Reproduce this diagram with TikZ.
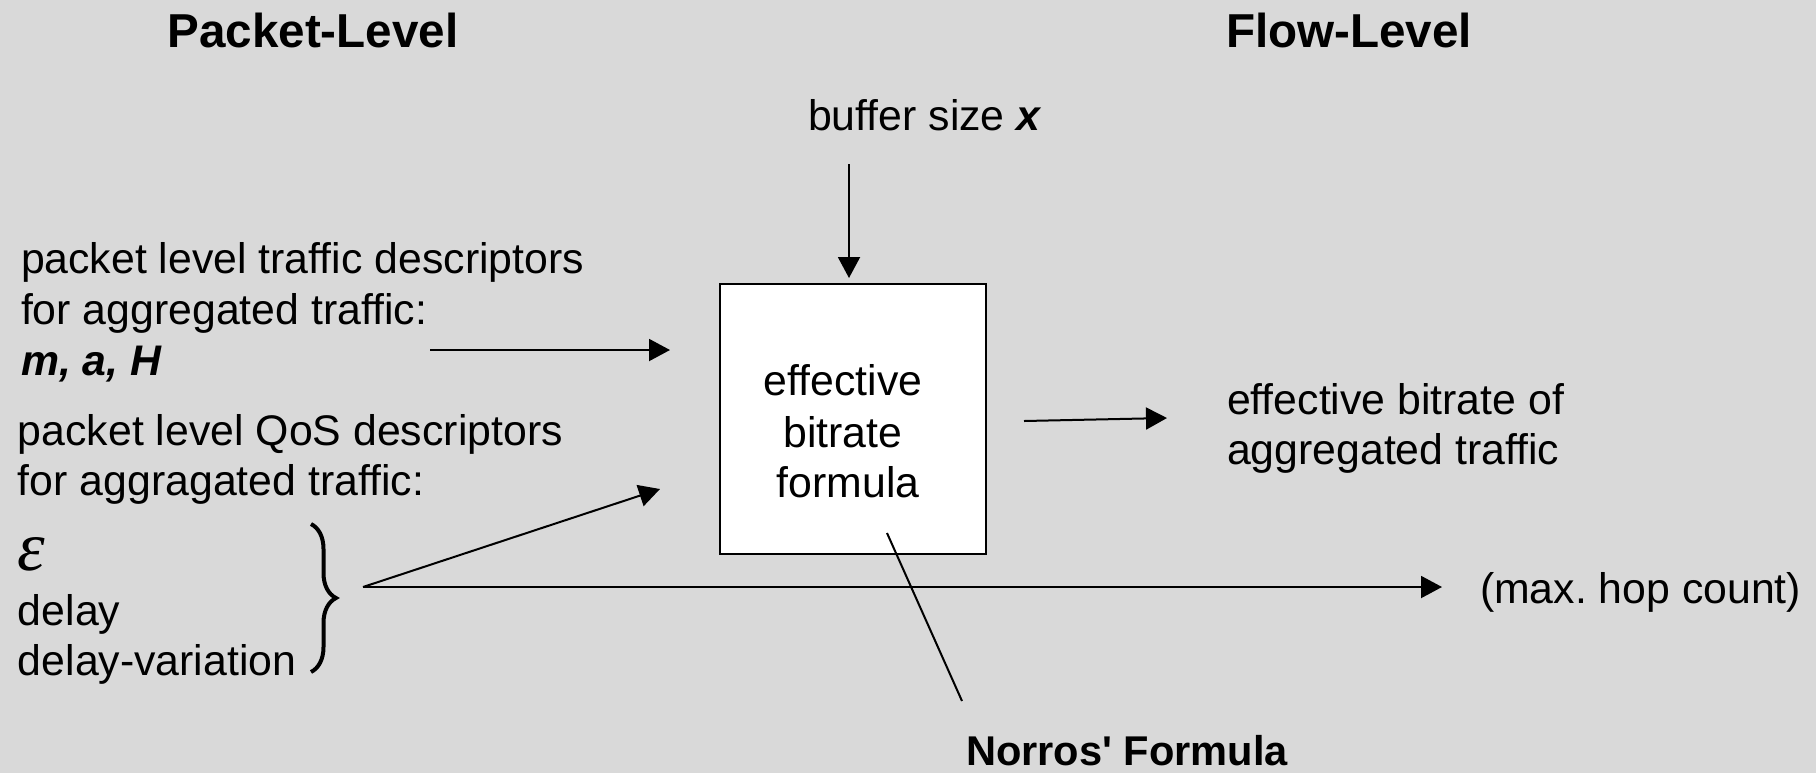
\documentclass[tikz,border=0pt]{standalone}
\usepackage{fontspec}
\setmainfont{Liberation Sans}
\newfontfamily\epsfont{Liberation Serif}
\newfontfamily\norfont{Liberation Sans}[Ligatures=TeXOff]
\usetikzlibrary{arrows.meta,decorations.pathreplacing}
\definecolor{bg}{RGB}{217,217,217}
\frenchspacing
\begin{document}
\begin{tikzpicture}[x=0.5pt,y=-0.5pt,
  txt/.style={inner sep=0pt,outer sep=0pt,font=\fontsize{21.4}{25.5}\selectfont},
  ttl/.style={inner sep=0pt,outer sep=0pt,font=\fontsize{23.8}{28}\selectfont\bfseries},
  arr/.style={line width=1pt,-{Triangle[length=10.5pt,width=11pt]}},
  ln/.style={line width=1pt}]
\fill[bg] (0,0) rectangle (1816,773);
\useasboundingbox (0,0) rectangle (1816,773);
% titles
\node[ttl,anchor=base] (tpl) at (313,47) {Packet-Level};
\node[ttl,anchor=base] (tfl) at (1349,47) {Flow-Level};
% box
\node[draw,fill=white,line width=1.1pt,minimum width=133pt,minimum height=135pt,inner sep=0pt,outer sep=0pt] (box) at (853,419) {};
\node[txt,anchor=base] (bt1) at (843,395) {effective};
\node[txt,anchor=base] (bt2) at (843,447) {bitrate};
\node[txt,anchor=base] (bt3) at (848,497) {formula};
% buffer size
\node[txt,anchor=base] (buf) at (925,130) {buffer size \textbf{\textit{x}}};
% left texts
\node[txt,anchor=base west] (l1) at (21,273) {packet level traffic descriptors};
\node[txt,anchor=base west] (l2) at (21,324) {for aggregated traffic:};
\node[txt,anchor=base west] (l3) at (21,375) {\textbf{\textit{m, a, H}}};
\node[txt,anchor=base west] (l4) at (18,445) {packet level QoS descriptors};
\node[txt,anchor=base west] (l5) at (18,495) {for aggragated traffic:};
\node[inner sep=0pt,outer sep=0pt,anchor=base west,font=\fontsize{35}{38}\epsfont\itshape] (eps) at (18,570) {ε};
\node[txt,anchor=base west] (l6) at (18,625) {delay};
\node[txt,anchor=base west] (l7) at (18,675) {delay-variation};
% right texts
\node[txt,anchor=base west] (r1) at (1227,414) {effective bitrate of};
\node[txt,anchor=base west] (r2) at (1227,464) {aggregated traffic};
\node[txt,anchor=base west] (hop) at (1480,603) {(max. hop count)};
\node[inner sep=0pt,outer sep=0pt,anchor=base,font=\fontsize{20.8}{25}\norfont\bfseries] (nor) at (1127,765) {Norros' Formula};
% brace
\coordinate (bt) at (311,524);
\coordinate (bb) at (311,672);
\draw[line width=2pt,decorate,decoration={brace,amplitude=12.5pt}] (bt) -- (bb);
% connector coordinates
\coordinate (bufs) at (849,164);
\coordinate (bufe) at (849,278);
\coordinate (tfs) at (430,350);
\coordinate (tfe) at (670,350);
\coordinate (outs) at (1024,421);
\coordinate (oute) at (1167,418);
\coordinate (qs) at (363,587);
\coordinate (qe) at (660,489);
\coordinate (hope) at (1442,587);
\coordinate (ns) at (887,533);
\coordinate (ne) at (962,701);
\draw[arr] (bufs) -- (bufe);
\draw[arr] (tfs) -- (tfe);
\draw[arr] (outs) -- (oute);
\draw[arr] (qs) -- (qe);
\draw[arr] (qs) -- (hope);
\draw[ln] (ns) -- (ne);
\end{tikzpicture}
\end{document}
